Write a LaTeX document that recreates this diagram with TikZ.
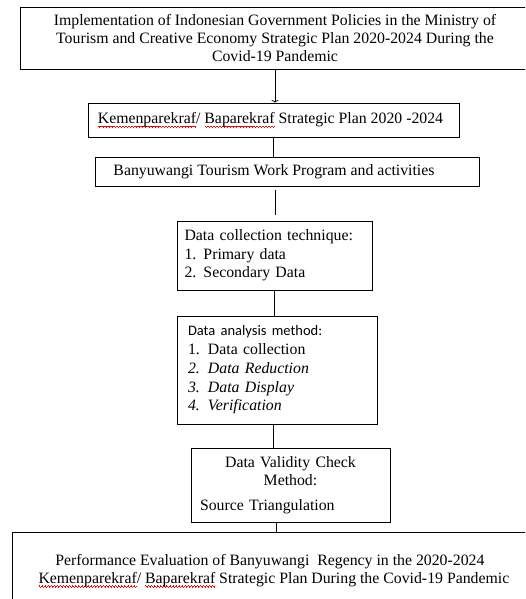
\documentclass[tikz,border=0pt]{standalone}
\usepackage{fontspec}
\setmainfont{Liberation Serif}
\newfontfamily\calib{Carlito}
\usetikzlibrary{arrows.meta}
\newsavebox\spbox
\newcommand\wavecell{\hbox{\rule[0pt]{0.75pt}{0.7pt}\rule[-0.55pt]{0.75pt}{0.7pt}\rule[-1.1pt]{0.75pt}{0.7pt}\rule[-0.55pt]{0.75pt}{0.7pt}}}
\newcommand\spellerr[1]{\sbox\spbox{#1}\rlap{\smash{\raisebox{-2.6pt}{\color{red}\hbox to \wd\spbox{\xleaders\wavecell\hfill}}}}\usebox\spbox}
\tikzset{
  box/.style={draw, line width=0.8pt, inner sep=0pt, font=\fontsize{15.8}{18}\selectfont},
  link/.style={line width=0.8pt},
}
\begin{document}
\begin{tikzpicture}[x=1pt,y=-1pt]
\useasboundingbox (0,0) rectangle (525,599);
\clip (0,0) rectangle (525,599);
% top box
\node[box, minimum width=510, minimum height=62, align=center] (top) at (275,38)
  {Implementation of Indonesian Government Policies in the Ministry of\\
   Tourism and Creative Economy Strategic Plan 2020-2024 During the\\
   Covid-19 Pandemic};
% strategic plan
\node[box, minimum width=371, minimum height=34, align=center] (kp) at (273.5,120)
  {\hspace*{-6pt}\spellerr{Kemenparekraf}/ \spellerr{Baparekraf} Strategic Plan 2020 -2024};
% work program
\node[box, minimum width=384, minimum height=29, align=center] (bwi) at (287,171.5)
  {\hspace*{-26pt}Banyuwangi Tourism Work Program and activities};
% detached connector
\coordinate (g1) at (275,190);
\coordinate (g2) at (275,215);
% data collection technique
\node[box, minimum width=195, minimum height=69, text width=180, align=left] (dct) at (274.5,255.5)
  {\fontsize{15.8}{19}\selectfont Data collection technique:\\
   \makebox[19pt][l]{1.}Primary data\\
   \makebox[19pt][l]{2.}Secondary Data};
% data analysis method
\node[box, minimum width=200, minimum height=108, text width=178, align=left] (dam) at (277,370)
  {\fontsize{15.8}{19}\selectfont{\calib\fontsize{14.5}{19}\selectfont Data analysis method:}\\
   \makebox[20pt][l]{1.}Data collection\\
   \makebox[20pt][l]{\itshape 2.}\textit{Data Reduction}\\
   \makebox[20pt][l]{\itshape 3.}\textit{Data Display}\\
   \makebox[20pt][l]{\itshape 4.}\textit{Verification}};
% validity check
\node[box, minimum width=199, minimum height=74, text width=181] (dvc) at (290.5,485)
  {\fontsize{15.8}{17.5}\selectfont{\centering Data Validity Check\\ Method:\par}\vspace{7pt}%
   \raggedright Source Triangulation};
% performance evaluation
\node[box, inner ysep=22pt, minimum width=523, align=center, anchor=north west] (perf) at (12,532)
  {\hspace*{-8pt}Performance Evaluation of Banyuwangi\ \ Regency in the 2020-2024\\
   \spellerr{Kemenparekraf}/ \spellerr{Baparekraf} Strategic Plan During the Covid-19 Pandemic};
% connectors
\draw[link, -{To[length=2.5pt,width=7pt]}] (top.south) -- (top.south |- kp.north);
\draw[link] (kp.south) -- (kp.south |- bwi.north);
\draw[link, line width=0.6pt] (g1) -- (g2);
\draw[link] (dct.south) -- (dct.south |- dam.north);
\draw[link] ([xshift=-4pt]dam.south) -- ([xshift=-4pt]dam.south |- dvc.north);
\draw[link] ([xshift=-14.5pt]dvc.south) -- ([xshift=-14.5pt]dvc.south |- perf.north);
\end{tikzpicture}
\end{document}
